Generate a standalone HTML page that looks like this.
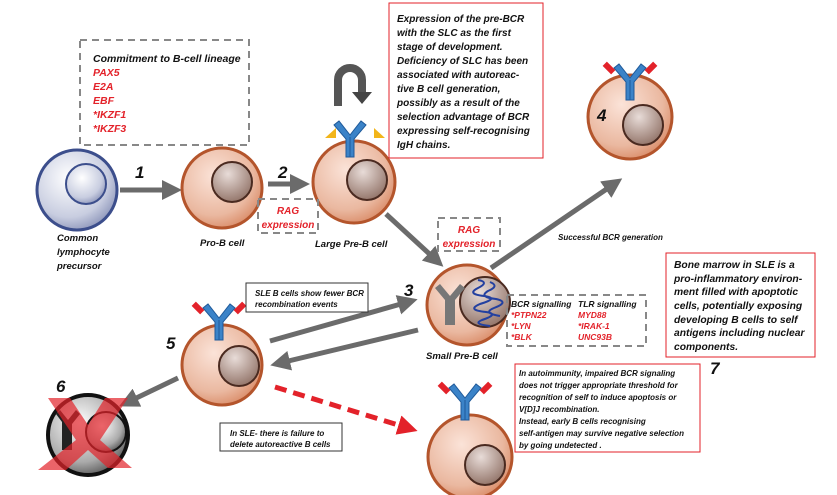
<!DOCTYPE html>
<html><head><meta charset="utf-8"><style>
body{margin:0;background:#fff}
svg{display:block;font-family:"Liberation Sans",sans-serif;font-style:italic;font-weight:bold}
</style></head><body>
<svg width="837" height="495" viewBox="0 0 837 495" xmlns="http://www.w3.org/2000/svg">
<defs>
<radialGradient id="cellG" cx="0.4" cy="0.35" r="0.7"><stop offset="0" stop-color="#fbe3d8"/><stop offset="0.7" stop-color="#eab8a0"/><stop offset="1" stop-color="#d98a66"/></radialGradient>
<radialGradient id="nucG" cx="0.4" cy="0.3" r="0.8"><stop offset="0" stop-color="#e8dcd8"/><stop offset="1" stop-color="#8a6a5e"/></radialGradient>
<radialGradient id="blueG" cx="0.4" cy="0.35" r="0.7"><stop offset="0" stop-color="#ffffff"/><stop offset="0.7" stop-color="#c8cde0"/><stop offset="1" stop-color="#8a93b8"/></radialGradient>
<radialGradient id="grayG" cx="0.4" cy="0.35" r="0.7"><stop offset="0" stop-color="#ffffff"/><stop offset="0.7" stop-color="#aaa"/><stop offset="1" stop-color="#555"/></radialGradient>
<marker id="ah" markerWidth="4" markerHeight="4" refX="2" refY="2" orient="auto" markerUnits="strokeWidth"><path d="M0,0 L4,2 L0,4 z" fill="#6b6b6b"/></marker>
<marker id="ahr" markerWidth="4" markerHeight="4" refX="2" refY="2" orient="auto" markerUnits="strokeWidth"><path d="M0,0 L4,2 L0,4 z" fill="#e3222a"/></marker>
<g id="ab"><path d="M-4,0 V-18 L-16,-32 L-11,-36 L0,-22 L11,-36 L16,-32 L4,-18 V0 z" fill="#3b83c8" stroke="#1f5a9a" stroke-width="1"/><line x1="0" y1="-20" x2="0" y2="0" stroke="#1f5a9a"/></g>
<g id="abr"><use href="#ab"/><rect x="-24" y="-38" width="6" height="12" fill="#e3222a" transform="rotate(-45 -21 -32)"/><rect x="18" y="-38" width="6" height="12" fill="#e3222a" transform="rotate(45 21 -32)"/></g>
</defs>

<g stroke="#6b6b6b" stroke-width="5" fill="none">
<line x1="120" y1="190" x2="172" y2="190" marker-end="url(#ah)"/>
<line x1="268" y1="184" x2="300" y2="184" marker-end="url(#ah)"/>
<line x1="386" y1="214" x2="436" y2="260" marker-end="url(#ah)"/>
<line x1="491" y1="268" x2="614" y2="184" marker-end="url(#ah)"/>
<line x1="270" y1="341" x2="408" y2="302" marker-end="url(#ah)"/>
<line x1="418" y1="330" x2="280" y2="363" marker-end="url(#ah)"/>
<line x1="178" y1="378" x2="128" y2="402" marker-end="url(#ah)"/>
</g>
<line x1="275" y1="387" x2="408" y2="428" stroke="#e3222a" stroke-width="5" stroke-dasharray="12,7" marker-end="url(#ahr)"/>

<circle cx="77" cy="190" r="40" fill="url(#blueG)" stroke="#3c4e8c" stroke-width="3"/>
<circle cx="86" cy="184" r="20" fill="url(#blueG)" stroke="#3c4e8c" stroke-width="2"/>
<circle cx="222" cy="188" r="40" fill="url(#cellG)" stroke="#b4552c" stroke-width="3"/>
<circle cx="232" cy="182" r="20" fill="url(#nucG)" stroke="#4a2a20" stroke-width="2"/>
<circle cx="354" cy="182" r="41" fill="url(#cellG)" stroke="#b4552c" stroke-width="3"/>
<circle cx="367" cy="180" r="20" fill="url(#nucG)" stroke="#4a2a20" stroke-width="2"/>
<path d="M325,138 L336,128 L336,138 z M374,138 L374,128 L385,138 z" fill="#f2b51a"/>
<use href="#ab" x="350" y="157"/>
<path d="M338,106 V80 a12,12 0 0 1 24,0 V92" stroke="#555" stroke-width="8" fill="none"/>
<path d="M352,92 h20 l-10,12 z" fill="#444"/>

<circle cx="467" cy="305" r="40" fill="url(#cellG)" stroke="#b4552c" stroke-width="3"/>
<circle cx="485" cy="302" r="25" fill="url(#nucG)" stroke="#4a2a20" stroke-width="2"/>
<path d="M445,300 L435,288 L440,284 L450,296 L460,284 L465,288 L455,300 V325 H445 z" fill="#777"/>
<path d="M478,280 q12,2 0,8 q-12,6 6,8 q16,2 -4,8 q-14,6 6,8 q14,2 -4,8 q-10,4 8,6 M490,282 q10,4 -2,9 q-10,6 8,8 q14,3 -2,9 q-12,5 6,8" stroke="#2340a0" stroke-width="2" fill="none"/>

<circle cx="630" cy="117" r="42" fill="url(#cellG)" stroke="#b4552c" stroke-width="3"/>
<circle cx="643" cy="125" r="20" fill="url(#nucG)" stroke="#4a2a20" stroke-width="2"/>
<use href="#abr" x="630" y="100"/>

<circle cx="222" cy="365" r="40" fill="url(#cellG)" stroke="#b4552c" stroke-width="3"/>
<circle cx="239" cy="366" r="20" fill="url(#nucG)" stroke="#4a2a20" stroke-width="2"/>
<use href="#abr" x="219" y="340"/>

<circle cx="88" cy="435" r="40" fill="url(#grayG)" stroke="#111" stroke-width="4"/>
<circle cx="106" cy="432" r="20" fill="url(#grayG)" stroke="#111" stroke-width="2"/>
<path d="M62,422 L56,414 L60,410 L68,420 L76,410 L80,414 L72,424 V450 H62 z" fill="#222"/>
<path d="M48,398 H70 L88,425 L105,398 H128 L100,440 L132,468 H108 L88,450 L66,470 H38 L76,440 z" fill="#e3222a" opacity="0.7"/>

<circle cx="470" cy="457" r="42" fill="url(#cellG)" stroke="#b4552c" stroke-width="3"/>
<circle cx="485" cy="465" r="20" fill="url(#nucG)" stroke="#4a2a20" stroke-width="2"/>
<use href="#abr" x="465" y="420"/>

<g fill="none" stroke="#888" stroke-width="2" stroke-dasharray="7,5">
<rect x="80" y="40" width="169" height="105"/>
<rect x="258" y="199" width="60" height="34"/>
<rect x="438" y="218" width="62" height="33"/>
<rect x="507" y="295" width="139" height="51"/>
</g>
<g fill="#fff" stroke="#e3222a" stroke-width="1">
<rect x="389" y="3" width="154" height="155"/>
<rect x="666" y="253" width="149" height="104"/>
<rect x="515" y="364" width="185" height="88"/>
</g>
<g fill="#fff" stroke="#333" stroke-width="1">
<rect x="246" y="283" width="122" height="29"/>
<rect x="220" y="423" width="122" height="28"/>
</g>

<g font-size="10.5" fill="#111">
<text x="93" y="62">Commitment to B-cell lineage</text>
<g fill="#e3222a"><text x="93" y="76">PAX5</text><text x="93" y="90">E2A</text><text x="93" y="104">EBF</text><text x="93" y="118">*IKZF1</text><text x="93" y="132">*IKZF3</text></g>
<g font-size="10"><text x="397" y="22">Expression of the pre-BCR</text><text x="397" y="36">with the SLC as the first</text><text x="397" y="50">stage of development.</text><text x="397" y="64">Deficiency of SLC has been</text><text x="397" y="78">associated with autoreac-</text><text x="397" y="92">tive B cell generation,</text><text x="397" y="106">possibly as a result of the</text><text x="397" y="120">selection advantage of BCR</text><text x="397" y="134">expressing self-recognising</text><text x="397" y="148">IgH chains.</text></g>
<g font-size="10" fill="#e3222a" text-anchor="middle"><text x="288" y="214">RAG</text><text x="288" y="228">expression</text><text x="469" y="233">RAG</text><text x="469" y="247">expression</text></g>
<g font-size="9.5"><text x="57" y="241">Common</text><text x="57" y="255">lymphocyte</text><text x="57" y="269">precursor</text>
<text x="200" y="246">Pro-B cell</text><text x="315" y="247">Large Pre-B cell</text><text x="426" y="359">Small Pre-B cell</text></g>
<text x="558" y="240" font-size="8">Successful BCR generation</text>
<g font-size="8.5"><text x="511" y="307">BCR signalling</text><text x="578" y="307">TLR signalling</text>
<g fill="#e3222a"><text x="511" y="318">*PTPN22</text><text x="511" y="329">*LYN</text><text x="511" y="340">*BLK</text><text x="578" y="318">MYD88</text><text x="578" y="329">*IRAK-1</text><text x="578" y="340">UNC93B</text></g></g>
<g font-size="10.3"><text x="674" y="268">Bone marrow in SLE is a</text><text x="674" y="282">pro-inflammatory environ-</text><text x="674" y="295">ment filled with apoptotic</text><text x="674" y="309">cells, potentially exposing</text><text x="674" y="323">developing B cells to self</text><text x="674" y="336">antigens including nuclear</text><text x="674" y="350">components.</text></g>
<g font-size="8"><text x="519" y="376">In autoimmunity, impaired BCR signaling</text><text x="519" y="388">does not trigger appropriate threshold for</text><text x="519" y="400">recognition of self to induce apoptosis or</text><text x="519" y="412">V[D]J recombination.</text><text x="519" y="424">Instead, early B cells recognising</text><text x="519" y="436">self-antigen may survive negative selection</text><text x="519" y="448">by going undetected .</text></g>
<g font-size="8"><text x="255" y="296">SLE B cells show fewer BCR</text><text x="255" y="307">recombination events</text><text x="230" y="436">In SLE- there is failure to</text><text x="230" y="447">delete autoreactive B cells</text></g>
<g font-size="17"><text x="135" y="178">1</text><text x="278" y="178">2</text><text x="404" y="296">3</text><text x="597" y="121">4</text><text x="166" y="349">5</text><text x="56" y="392">6</text><text x="710" y="374">7</text></g>
</g>
</svg>
</body></html>
